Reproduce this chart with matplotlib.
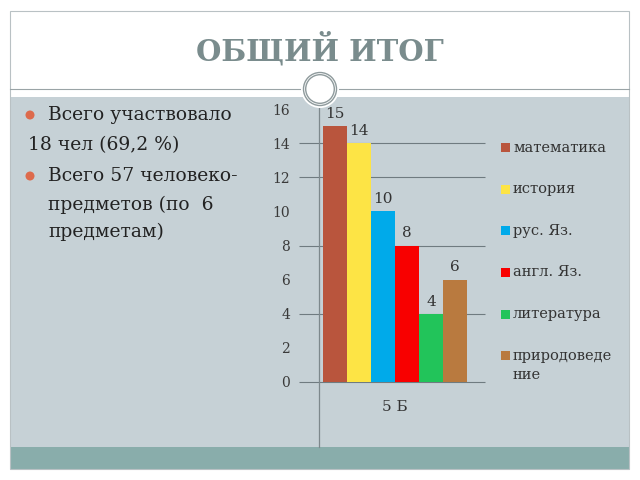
import matplotlib.pyplot as plt
from matplotlib.patches import Rectangle, Circle

plt.rcParams['font.family'] = ['DejaVu Serif']

# данные
subjects = ['математика', 'история', 'рус. Яз.', 'англ. Яз.', 'литература', 'природоведе\nние']
counts = [15, 14, 10, 8, 4, 6]
colors = ['#b9553d', '#fde445', '#00aaea', '#f80000', '#22c45a', '#b97a3f']
category = '5 Б'
yticks = list(range(0, 17, 2))
grid_levels = [0, 4, 8, 12, 14]

fig = plt.figure(figsize=(6.4, 4.8), dpi=100)

# фон слайда (координаты в пикселях)
bg = fig.add_axes([0, 0, 1, 1])
bg.set_xlim(0, 640)
bg.set_ylim(480, 0)
bg.axis('off')
bg.add_patch(Rectangle((10, 11), 619, 458, fc='white', ec='none'))
bg.add_patch(Rectangle((10, 97), 619, 350, fc='#c6d1d6', ec='none'))
bg.add_patch(Rectangle((10, 447), 619, 22, fc='#89adab', ec='none'))
bg.add_patch(Rectangle((10, 11), 619, 458, fc='none', ec='#b9c1c4', lw=0.8))
bg.plot([10, 629], [89, 89], color='#9aa4a6', lw=0.8)

bg.text(320, 49, 'ОБЩИЙ ИТОГ', ha='center', va='center', fontsize=21,
        fontweight='bold', color='#7a8c8d')

# текст слева
for yb in [115, 176]:
    bg.add_patch(Circle((30, yb), 4.5, fc='#dd6a4c', ec='none'))
txt = dict(va='center', fontsize=13.5, color='#222222')
bg.text(48, 115, 'Всего участвовало', **txt)
bg.text(28, 145, '18 чел (69,2 %)', **txt)
bg.text(48, 176, 'Всего 57 человеко-', **txt)
bg.text(48, 205, 'предметов (по  6', **txt)
bg.text(48, 232, 'предметам)', **txt)

# легенда
for i, (name, col) in enumerate(zip(subjects, colors)):
    y = 147.7 + i * 41.6
    bg.add_patch(Rectangle((501, y - 4.5), 9, 9, fc=col, ec='none'))
    nl = name.count('\n')
    bg.text(513, y + nl * 10, name, va='center', fontsize=10.5, color='#333333',
            linespacing=1.45)

# диаграмма
ax = fig.add_axes([319.3 / 640, 1 - 447 / 480, (485 - 319.3) / 640, (447 - 98) / 480])
ax.set_facecolor('none')
x = list(range(len(counts)))
ax.bar(x, counts, width=1, color=colors, zorder=3)
ax.set_xlim(-0.667, 6.237)
ax.set_ylim(-3.83, 16.66)
for s in ['top', 'right', 'bottom']:
    ax.spines[s].set_visible(False)
ax.spines['left'].set_color('#7d888c')
ax.spines['left'].set_linewidth(0.9)
ax.set_xticks([])
ax.set_yticks(yticks)
ax.tick_params(axis='y', length=0, pad=21, labelsize=10, labelcolor='#3a3a3a')
ax.hlines(grid_levels, -1.51, 6.237, color='#6f7b80', lw=0.8, clip_on=False, zorder=1)
for xi, v in zip(x, counts):
    ax.text(xi, v + 0.3, str(v), ha='center', va='bottom', fontsize=11, color='#333333')
ax.text(2.5, -1.47, category, ha='center', va='center', fontsize=11, color='#333333')

# кольцо сверху
top = fig.add_axes([0, 0, 1, 1])
top.set_xlim(0, 640)
top.set_ylim(480, 0)
top.axis('off')
top.add_patch(Circle((320, 89), 19, fc='white', ec='none'))
top.add_patch(Circle((320, 89), 16.5, fc='none', ec='#8e9a9c', lw=1.0))
top.add_patch(Circle((320, 89), 14.3, fc='none', ec='#8e9a9c', lw=1.0))

fig.savefig('out.png', dpi=100)
